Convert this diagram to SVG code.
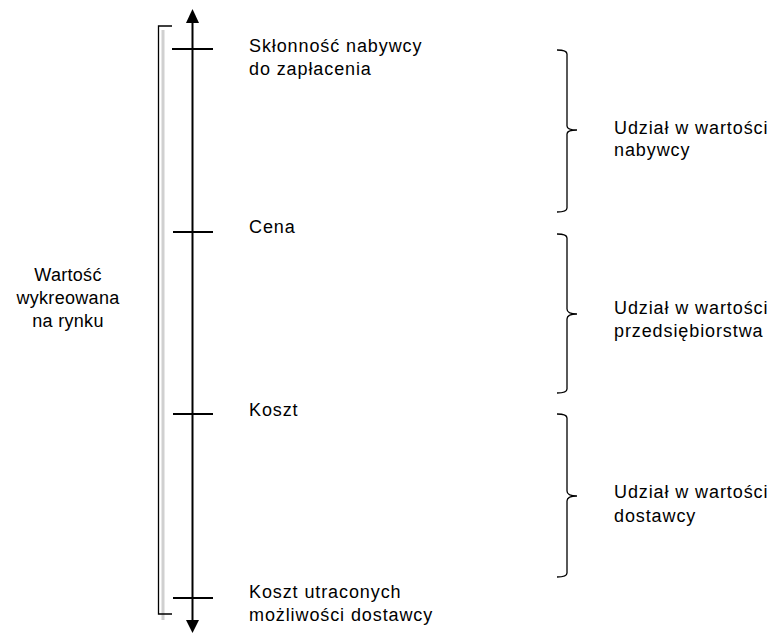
<svg xmlns="http://www.w3.org/2000/svg" width="773" height="633" viewBox="0 0 773 633">
<style>
text{font-family:"Liberation Sans",Arial,sans-serif;font-size:18px;fill:#000;letter-spacing:0.9px}
text.lv{letter-spacing:0.3px}
.ax{stroke:#000;stroke-width:2;fill:none}
.br{stroke:#000;stroke-width:1.3;fill:none}
</style>
<rect width="773" height="633" fill="#fff"/>
<g id="connectors">
<line class="ax" x1="192.5" y1="20" x2="192.5" y2="622"/>
<polygon points="192.5,9 186,23 199,23" fill="#000"/>
<polygon points="192.5,633 186,620 199,620" fill="#000"/>
<line x1="163" y1="30" x2="163" y2="620" stroke="#d0d0d0" stroke-width="3"/>
<path class="br" d="M172,26 H158.5 V614 H172"/>
</g>
<g id="tick-wtp"><line class="ax" x1="172" y1="49" x2="213" y2="49"/><text x="249" y="52">Skłonność nabywcy</text><text x="249" y="75">do zapłacenia</text></g>
<g id="tick-cena"><line class="ax" x1="173" y1="232" x2="213" y2="232"/><text x="249" y="233">Cena</text></g>
<g id="tick-koszt"><line class="ax" x1="173" y1="414" x2="213" y2="414"/><text x="249" y="416">Koszt</text></g>
<g id="tick-opp"><line class="ax" x1="173" y1="598" x2="213" y2="598"/><text x="249" y="598">Koszt utraconych</text><text x="249" y="621">możliwości dostawcy</text></g>
<g id="label-value"><text class="lv" x="68" y="281" text-anchor="middle">Wartość</text><text class="lv" x="68" y="304" text-anchor="middle">wykreowana</text><text class="lv" x="68" y="327" text-anchor="middle">na rynku</text></g>
<g id="brace-buyer"><path class="br" d="M557,50 Q567,50 567,54 V126 Q567,130 577,130 Q567,130 567,134 V208 Q567,212 557,212"/><text x="614" y="134">Udział w wartości</text><text x="614" y="156">nabywcy</text></g>
<g id="brace-firm"><path class="br" d="M557,234 Q567,234 567,238 V309 Q567,314 577,314 Q567,314 567,319 V389 Q567,393 557,393"/><text x="614" y="314">Udział w wartości</text><text x="614" y="337">przedsiębiorstwa</text></g>
<g id="brace-supplier"><path class="br" d="M557,414 Q567,414 567,418 V491 Q567,496 577,496 Q567,496 567,501 V573 Q567,577 557,577"/><text x="614" y="498">Udział w wartości</text><text x="614" y="522">dostawcy</text></g>
</svg>
